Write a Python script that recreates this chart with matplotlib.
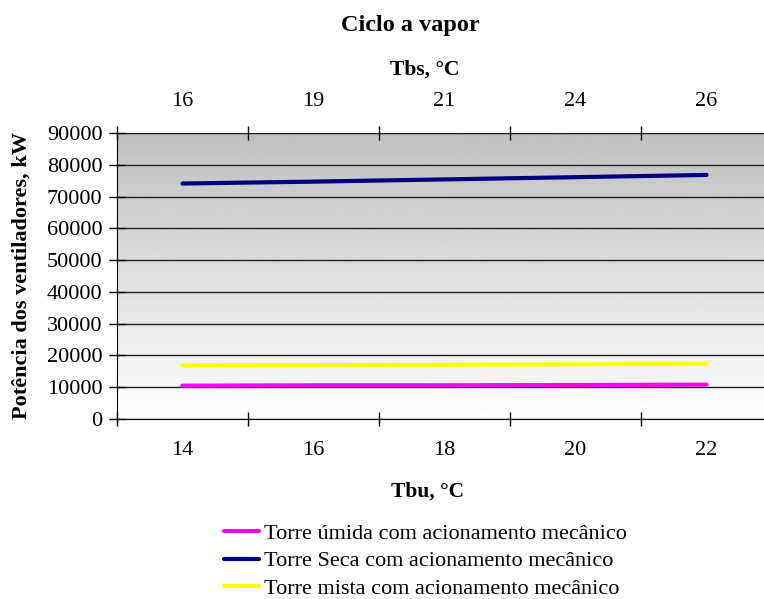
import numpy as np
import matplotlib

matplotlib.use("Agg")
import matplotlib.pyplot as plt

plt.rcParams["font.family"] = ["Liberation Serif", "DejaVu Serif"]

tbu = ["14", "16", "18", "20", "22"]  # bottom axis, wet bulb
tbs = ["16", "19", "21", "24", "26"]  # top axis, dry bulb
umida = [10500, 10600, 10600, 10700, 10800]
seca = [74100, 74700, 75400, 76100, 76800]
mista = [16900, 16950, 17050, 17200, 17400]
names = [
    "Torre úmida com acionamento mecânico",
    "Torre Seca com acionamento mecânico",
    "Torre mista com acionamento mecânico",
]
colors = ["#FF00FF", "#000080", "#FFFF00"]

fig = plt.figure(figsize=(7.64, 5.99), dpi=100)
ax = fig.add_axes([117 / 764, 1 - 419 / 599, 655 / 764, 286 / 599])

# gradient background (gray top -> white bottom)
grad = np.linspace(0.75, 1.0, 256).reshape(-1, 1)
ax.imshow(grad, cmap="gray", vmin=0, vmax=1, aspect="auto",
          extent=[0, 1, 0, 1], transform=ax.transAxes, zorder=0)

x = np.arange(len(tbu))
for y, c, n in zip([umida, seca, mista], colors, names):
    ax.plot(x, y, color=c, lw=3, label=n, zorder=3, solid_capstyle="round")

ax.set_xlim(-0.5, len(tbu) - 0.5)
ax.set_ylim(0, 90000)
ax.set_yticks(np.arange(0, 90001, 10000))
ax.yaxis.grid(True, color="#202020", lw=1)
ax.set_axisbelow(False)
ax.spines["right"].set_visible(False)
ax.spines["top"].set_color("#202020")

ax.set_xticks(x, tbu)
ax.set_xticks(np.arange(-0.5, len(tbu)), minor=True)
ax.tick_params(axis="x", which="major", length=0, pad=16, labelsize=16)
ax.tick_params(axis="x", which="minor", direction="inout", length=10, width=1)
ax.tick_params(axis="y", direction="inout", length=11, width=1, pad=5, labelsize=16)

top = ax.secondary_xaxis("top")
top.set_xticks(x, tbs)
top.set_xticks(np.arange(-0.5, len(tbs)), minor=True)
top.tick_params(axis="x", which="major", length=0, pad=16, labelsize=16)
top.tick_params(axis="x", which="minor", direction="inout", length=10, width=1)
top.spines["top"].set_visible(False)

fig.text(410 / 764, 1 - 25 / 599, "Ciclo a vapor", ha="center", va="center",
         fontsize=17.5, fontweight="bold")
fig.text(425 / 764, 1 - 70 / 599, "Tbs, °C", ha="center", va="center",
         fontsize=15.5, fontweight="bold")
fig.text(428 / 764, 1 - 492 / 599, "Tbu, °C", ha="center", va="center",
         fontsize=15.5, fontweight="bold")
fig.text(22 / 764, 1 - 276 / 599, "Potência dos ventiladores, kW", ha="center",
         va="center", rotation=90, fontsize=16, fontweight="bold")

fig.legend(loc="center", bbox_to_anchor=(425 / 764, 1 - 561 / 599), frameon=False,
           fontsize=16, handlelength=1.6, handletextpad=0.2, labelspacing=0.3,
           borderpad=0)

fig.savefig("out.png", dpi=100)
